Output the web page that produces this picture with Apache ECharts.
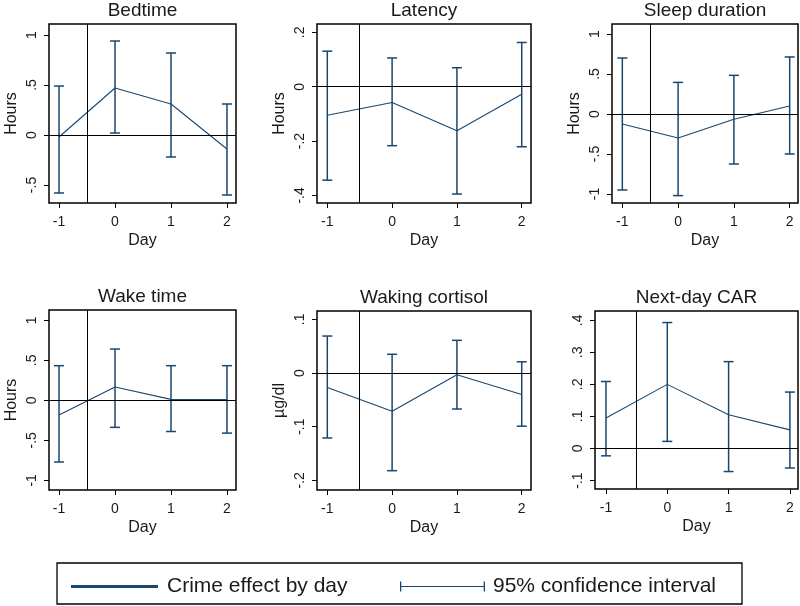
<!DOCTYPE html>
<html>
<head>
<meta charset="utf-8">
<script src="https://cdn.jsdelivr.net/npm/echarts@6/dist/echarts.min.js"></script>
<style>
  html, body { margin: 0; padding: 0; background: #fff; }
  #main { width: 800px; height: 606px; }
</style>
</head>
<body>
<div id="main"></div>
<script>
// 数据
var days = [-1, 0, 1, 2];
var titles = ['Bedtime', 'Latency', 'Sleep duration', 'Wake time', 'Waking cortisol', 'Next-day CAR'];
var yNames = ['Hours', 'Hours', 'Hours', 'Hours', 'µg/dl', ''];

var bedtimeEst = [-0.02, 0.47, 0.31, -0.14];
var bedtimeLo = [-0.58, 0.02, -0.22, -0.60];
var bedtimeHi = [0.49, 0.94, 0.82, 0.31];

var latencyEst = [-0.105, -0.058, -0.162, -0.028];
var latencyLo = [-0.344, -0.217, -0.395, -0.221];
var latencyHi = [0.131, 0.106, 0.070, 0.163];

var sleepEst = [-0.125, -0.30, -0.065, 0.10];
var sleepLo = [-0.95, -1.02, -0.625, -0.50];
var sleepHi = [0.70, 0.395, 0.483, 0.713];

var wakeEst = [-0.184, 0.166, 0.012, 0.01];
var wakeLo = [-0.771, -0.338, -0.39, -0.41];
var wakeHi = [0.433, 0.641, 0.433, 0.433];

var cortisolEst = [-0.027, -0.071, -0.003, -0.040];
var cortisolLo = [-0.121, -0.182, -0.067, -0.099];
var cortisolHi = [0.069, 0.035, 0.061, 0.021];

var carEst = [0.095, 0.20, 0.105, 0.058];
var carLo = [-0.023, 0.022, -0.072, -0.061];
var carHi = [0.209, 0.393, 0.271, 0.176];

var yTicks = [
    [-0.5, 0, 0.5, 1],
    [-0.4, -0.2, 0, 0.2],
    [-1, -0.5, 0, 0.5, 1],
    [-1, -0.5, 0, 0.5, 1],
    [-0.2, -0.1, 0, 0.1],
    [-0.1, 0, 0.1, 0.2, 0.3, 0.4]
];

var estAll = [bedtimeEst, latencyEst, sleepEst, wakeEst, cortisolEst, carEst];
var loAll = [bedtimeLo, latencyLo, sleepLo, wakeLo, cortisolLo, carLo];
var hiAll = [bedtimeHi, latencyHi, sleepHi, wakeHi, cortisolHi, carHi];

// 布局 (像素) 与坐标范围
var boxes = [
    [49, 24, 187, 179],
    [317, 24, 214, 179],
    [612, 24, 186, 179],
    [49, 310, 187, 180],
    [317, 311, 214, 179],
    [595, 311, 203, 178]
];
var xRanges = [[-1.179, 2.161], [-1.159, 2.143], [-1.185, 2.149], [-1.179, 2.161], [-1.159, 2.143], [-1.179, 2.132]];
var yRanges = [[-0.68, 1.11], [-0.428, 0.231], [-1.1125, 1.125], [-1.121, 1.129], [-0.218, 0.1157], [-0.1265, 0.429]];

var NAVY = '#1a476f';
var FONT = 'Liberation Sans, Arial, sans-serif';

function stataFmt(v) {
    return String(v).replace(/^(-?)0\./, '$1.');
}

var grid = [], xAxis = [], yAxis = [], series = [], title = [];

for (var i = 0; i < 6; i++) {
    var b = boxes[i];
    grid.push({
        left: b[0], top: b[1], width: b[2], height: b[3],
        show: true, borderColor: '#000', borderWidth: 1.5, backgroundColor: '#fff'
    });
    title.push({
        text: titles[i],
        left: b[0] + b[2] / 2,
        textAlign: 'center',
        top: b[1] - 23,
        padding: 0,
        textStyle: { fontFamily: FONT, fontSize: 19, fontWeight: 'normal', color: '#1a1a1a' }
    });
    xAxis.push({
        type: 'value', gridIndex: i,
        min: xRanges[i][0], max: xRanges[i][1],
        name: 'Day', nameLocation: 'middle', nameGap: 30,
        nameTextStyle: { fontFamily: FONT, fontSize: 16, color: '#1a1a1a' },
        axisLine: { show: false, onZero: false },
        splitLine: { show: false },
        axisTick: { show: true, length: 5, customValues: days, lineStyle: { color: '#000', width: 1 } },
        axisLabel: { customValues: days, margin: 12, fontFamily: FONT, fontSize: 14, color: '#1a1a1a', formatter: stataFmt }
    });
    yAxis.push({
        type: 'value', gridIndex: i,
        min: yRanges[i][0], max: yRanges[i][1],
        name: yNames[i], nameLocation: 'middle', nameGap: 29,
        nameTextStyle: { fontFamily: FONT, fontSize: 16, color: '#1a1a1a' },
        axisLine: { show: false, onZero: false },
        splitLine: { show: false },
        axisTick: { show: true, length: 5, customValues: yTicks[i], lineStyle: { color: '#000', width: 1 } },
        axisLabel: { customValues: yTicks[i], rotate: 90, margin: 10, fontFamily: FONT, fontSize: 14, color: '#1a1a1a', formatter: stataFmt }
    });

    var est = estAll[i], lo = loAll[i], hi = hiAll[i];
    var lineData = [], ciData = [];
    for (var k = 0; k < days.length; k++) {
        lineData.push([days[k], est[k]]);
        ciData.push([days[k], lo[k], hi[k]]);
    }

    // 置信区间
    series.push({
        type: 'custom', name: '95% confidence interval',
        xAxisIndex: i, yAxisIndex: i,
        itemStyle: { color: NAVY },
        encode: { x: 0, y: [1, 2] },
        data: ciData,
        z: 3,
        renderItem: function (params, api) {
            var x = api.value(0);
            var p1 = api.coord([x, api.value(1)]);
            var p2 = api.coord([x, api.value(2)]);
            var hw = 5;
            var st = { stroke: NAVY, lineWidth: 1.5 };
            return {
                type: 'group',
                children: [
                    { type: 'line', shape: { x1: p1[0], y1: p1[1], x2: p2[0], y2: p2[1] }, style: st },
                    { type: 'line', shape: { x1: p1[0] - hw, y1: p1[1], x2: p1[0] + hw, y2: p1[1] }, style: st },
                    { type: 'line', shape: { x1: p2[0] - hw, y1: p2[1], x2: p2[0] + hw, y2: p2[1] }, style: st }
                ]
            };
        }
    });

    // 效应折线 + 参考线
    series.push({
        type: 'line', name: 'Crime effect by day',
        xAxisIndex: i, yAxisIndex: i,
        data: lineData,
        symbol: 'none',
        z: 4,
        lineStyle: { color: NAVY, width: 1.1 },
        itemStyle: { color: NAVY },
        markLine: {
            silent: true, symbol: ['none', 'none'], animation: false,
            label: { show: false },
            lineStyle: { color: '#000', width: 1, type: 'solid' },
            data: [{ yAxis: 0 }, { xAxis: -0.5 }]
        }
    });
}

var chart = echarts.init(document.getElementById('main'));
chart.setOption({
    backgroundColor: '#fff',
    animation: false,
    title: title,
    grid: grid,
    xAxis: xAxis,
    yAxis: yAxis,
    legend: [{
        data: [{ name: 'Crime effect by day', icon: 'rect' }],
        left: 66, top: 571,
        itemWidth: 87, itemHeight: 3,
        selectedMode: false,
        textStyle: { fontFamily: FONT, fontSize: 21, color: '#1a1a1a', padding: [0, 0, 0, 4] }
    }, {
        data: [{ name: '95% confidence interval', icon: 'path://M0,0h1.3v10h-1.3z M0,4.5h85v1h-85z M83.7,0h1.3v10h-1.3z' }],
        left: 395, top: 571,
        itemWidth: 85, itemHeight: 10,
        symbolKeepAspect: false,
        selectedMode: false,
        textStyle: { fontFamily: FONT, fontSize: 21, color: '#1a1a1a', padding: [0, 0, 0, 3] }
    }],
    graphic: [{
        type: 'rect',
        shape: { x: 57, y: 563, width: 685, height: 41 },
        style: { fill: 'none', stroke: '#000', lineWidth: 1.3 },
        z: 0
    }],
    series: series
});
</script>
</body>
</html>
